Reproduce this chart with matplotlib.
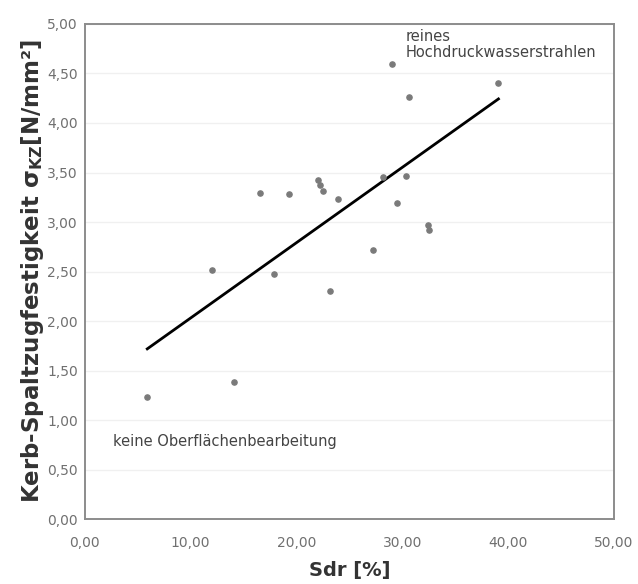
import matplotlib.pyplot as plt
import matplotlib.ticker as mticker
import numpy as np

plt.rcParams["font.family"] = ["DejaVu Sans"]
plt.rcParams["mathtext.fontset"] = "dejavusans"

sdr = [5.9, 14.1, 12.0, 17.9, 16.6, 19.3, 22.0, 22.2, 22.5, 23.9, 23.2,
       28.2, 30.4, 29.5, 32.4, 32.5, 27.2, 29.0, 30.6, 39.1]
sigma = [1.23, 1.39, 2.52, 2.48, 3.29, 3.28, 3.42, 3.37, 3.31, 3.23, 2.30,
         3.45, 3.46, 3.19, 2.97, 2.92, 2.72, 4.60, 4.26, 4.40]

x_ticks = [0, 10, 20, 30, 40, 50]
y_ticks = [0, 0.5, 1, 1.5, 2, 2.5, 3, 3.5, 4, 4.5, 5]


def comma(v, pos):
    return f"{v:.2f}".replace(".", ",")


fig = plt.figure(figsize=(6.38, 5.84), dpi=100)
ax = fig.add_axes([0.133, 0.111, 0.829, 0.848])

ax.scatter(sdr, sigma, s=14, color="#7a7a7a", zorder=3)
k, d = np.polyfit(sdr, sigma, 1)
xs = np.array([min(sdr), max(sdr)])
ax.plot(xs, k * xs + d, color="black", lw=2, zorder=2)

ax.set_xlim(0, 50); ax.set_ylim(0, 5)
ax.set_xticks(x_ticks); ax.set_yticks(y_ticks)
ax.xaxis.set_major_formatter(mticker.FuncFormatter(comma))
ax.yaxis.set_major_formatter(mticker.FuncFormatter(comma))
ax.tick_params(length=0, labelsize=10, labelcolor="#707070")
ax.tick_params(axis="x", pad=12)
ax.tick_params(axis="y", pad=5)
ax.grid(axis="y", color="#f0f0f0", lw=1)
ax.set_axisbelow(True)
for s in ax.spines.values():
    s.set_color("#8c8c8c"); s.set_linewidth(1.4)

ax.set_xlabel("Sdr [%]", fontsize=14, fontweight="bold", color="#333333", labelpad=8)
ax.set_ylabel(r"Kerb-Spaltzugfestigkeit $\mathbf{\sigma_{KZ}}$[N/mm²]", fontsize=16.5,
              fontweight="bold", color="#333333", labelpad=1)

ax.text(30.3, 4.95, "reines\nHochdruckwasserstrahlen", fontsize=10.5, color="#444444",
        va="top", ha="left", linespacing=1.1)
ax.text(2.7, 0.78, "keine Oberflächenbearbeitung", fontsize=10.5, color="#444444",
        va="center", ha="left")

fig.savefig("out.png", dpi=100)
